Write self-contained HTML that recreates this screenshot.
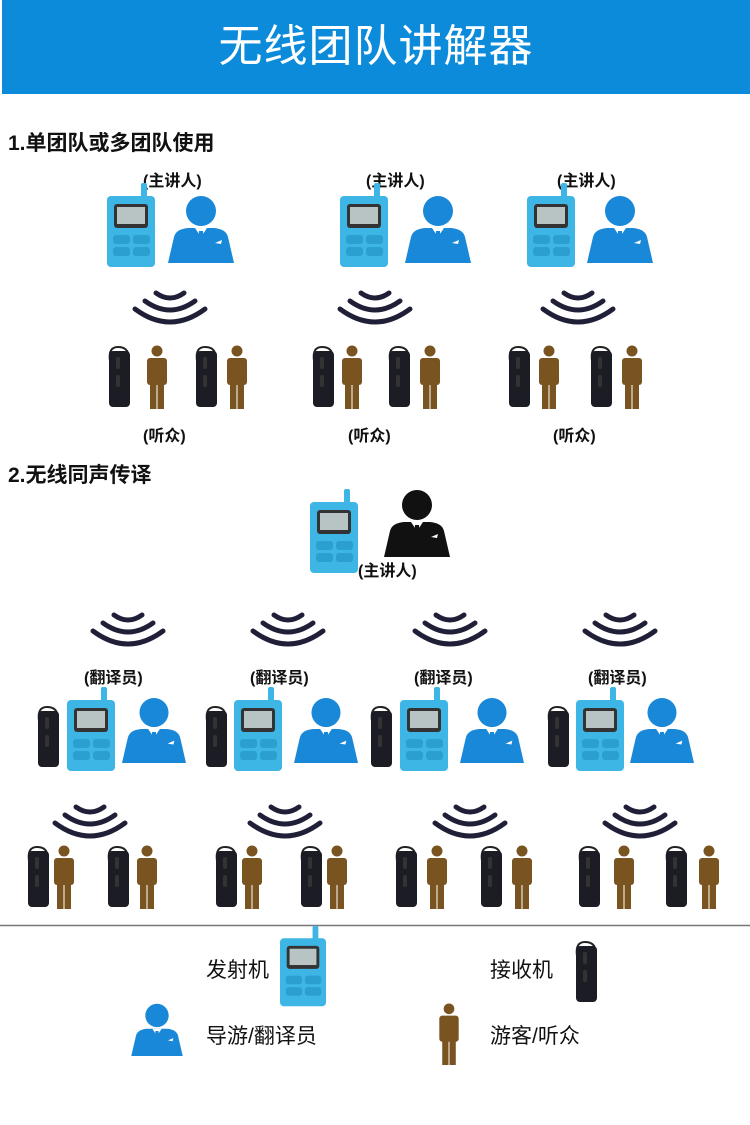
<!DOCTYPE html>
<html><head><meta charset="utf-8">
<style>
html,body{margin:0;padding:0;background:#fff;}
body{width:750px;height:1125px;position:relative;overflow:hidden;font-family:"Liberation Sans","Noto Sans CJK SC",sans-serif;}
.hdr{position:absolute;left:2px;top:0;width:748px;height:94px;background:#0b8bd9;color:#fff;font-size:44px;text-align:center;line-height:94px;letter-spacing:1px;}
.t{position:absolute;color:#111;white-space:nowrap;}
.sec{font-size:21px;font-weight:bold;}
.lb{font-size:16px;font-weight:bold;}
.lg{font-size:21px;}
svg{position:absolute;left:0;top:0;}
</style></head><body>
<div class="hdr">无线团队讲解器</div>
<div class="t sec" style="left:8px;top:127px">1.单团队或多团队使用</div>
<div class="t sec" style="left:8px;top:459px">2.无线同声传译</div>

<div class="t lb" style="left:143px;top:167px">(主讲人)</div>
<div class="t lb" style="left:366px;top:167px">(主讲人)</div>
<div class="t lb" style="left:557px;top:167px">(主讲人)</div>
<div class="t lb" style="left:143px;top:422px">(听众)</div>
<div class="t lb" style="left:348px;top:422px">(听众)</div>
<div class="t lb" style="left:553px;top:422px">(听众)</div>
<div class="t lb" style="left:358px;top:557px">(主讲人)</div>
<div class="t lb" style="left:84px;top:664px">(翻译员)</div>
<div class="t lb" style="left:250px;top:664px">(翻译员)</div>
<div class="t lb" style="left:414px;top:664px">(翻译员)</div>
<div class="t lb" style="left:588px;top:664px">(翻译员)</div>

<div class="t lg" style="left:206px;top:954px">发射机</div>
<div class="t lg" style="left:490px;top:954px">接收机</div>
<div class="t lg" style="left:206px;top:1020px">导游/翻译员</div>
<div class="t lg" style="left:490px;top:1020px">游客/听众</div>

<svg width="750" height="1125" viewBox="0 0 750 1125">
<defs>
<symbol id="tx" viewBox="0 0 48 84">
<rect x="34" y="0" width="6" height="18" rx="2" fill="#3db6e6"/>
<rect x="0" y="13" width="48" height="71" rx="4" fill="#3db6e6"/>
<rect x="7" y="21" width="34" height="24" rx="3" fill="#333"/>
<rect x="10" y="24" width="28" height="17" fill="#b8c4c4"/>
<rect x="6" y="52" width="17" height="9" rx="3" fill="#2a9fd0"/>
<rect x="26" y="52" width="17" height="9" rx="3" fill="#2a9fd0"/>
<rect x="6" y="64" width="17" height="9" rx="3" fill="#2a9fd0"/>
<rect x="26" y="64" width="17" height="9" rx="3" fill="#2a9fd0"/>
</symbol>
<symbol id="bp" viewBox="0 0 66 68">
<circle cx="33" cy="16" r="15"/>
<path d="M0 68 L6 42 Q8 34 20 33 L46 33 Q58 34 60 42 L66 68 Z"/>
<path d="M27 33 L33 42 L39 33 Z" fill="#fff"/>
<path d="M31 36 L35 36 L36 50 L33 53 L30 50 Z"/>
<path d="M47 48 L54 45 L53 49 Z" fill="#fff"/>
</symbol>
<symbol id="bm" viewBox="0 0 24 64">
<circle cx="12" cy="6" r="5.5"/>
<rect x="2" y="13" width="20" height="27" rx="3"/>
<rect x="5" y="36" width="6.5" height="28"/>
<rect x="12.5" y="36" width="6.5" height="28"/>
</symbol>
<symbol id="rx" viewBox="0 0 26 64">
<path d="M4 18 Q2 4 12 4 Q20 4 22 10" fill="none" stroke="#222" stroke-width="2"/>
<rect x="3" y="8" width="21" height="56" rx="4" fill="#1c1d24"/>
<rect x="10" y="14" width="4" height="12" rx="2" fill="#333"/>
<rect x="10" y="32" width="4" height="12" rx="2" fill="#333"/>
</symbol>
<symbol id="wv" viewBox="0 0 80 40">
<g fill="none" stroke="#1f2038" stroke-width="5" stroke-linecap="round">
<path d="M26 5 Q40 15 54 5"/>
<path d="M15 13 Q40 31 65 13"/>
<path d="M5 21 Q40 47 75 21"/>
</g>
</symbol>
</defs>

<!-- section 1 -->
<g>
<use href="#tx" x="107" y="183" width="48" height="84"/>
<use href="#bp" x="168" y="195" width="66" height="68" fill="#1a88d8"/>
<use href="#tx" x="340" y="183" width="48" height="84"/>
<use href="#bp" x="405" y="195" width="66" height="68" fill="#1a88d8"/>
<use href="#tx" x="527" y="183" width="48" height="84"/>
<use href="#bp" x="587" y="195" width="66" height="68" fill="#1a88d8"/>

<use href="#wv" x="130" y="288" width="80" height="40"/>
<use href="#wv" x="335" y="288" width="80" height="40"/>
<use href="#wv" x="538" y="288" width="80" height="40"/>

<use href="#rx" x="106" y="343" width="26" height="64"/>
<use href="#bm" x="145" y="345" width="24" height="64" fill="#7a5420"/>
<use href="#rx" x="193" y="343" width="26" height="64"/>
<use href="#bm" x="225" y="345" width="24" height="64" fill="#7a5420"/>
<use href="#rx" x="310" y="343" width="26" height="64"/>
<use href="#bm" x="340" y="345" width="24" height="64" fill="#7a5420"/>
<use href="#rx" x="386" y="343" width="26" height="64"/>
<use href="#bm" x="418" y="345" width="24" height="64" fill="#7a5420"/>
<use href="#rx" x="506" y="343" width="26" height="64"/>
<use href="#bm" x="537" y="345" width="24" height="64" fill="#7a5420"/>
<use href="#rx" x="588" y="343" width="26" height="64"/>
<use href="#bm" x="620" y="345" width="24" height="64" fill="#7a5420"/>
</g>

<!-- section 2 -->
<use href="#tx" x="310" y="489" width="48" height="84"/>
<use href="#bp" x="384" y="489" width="66" height="68" fill="#111"/>

<use href="#wv" x="88" y="610" width="80" height="40"/>
<use href="#wv" x="248" y="610" width="80" height="40"/>
<use href="#wv" x="410" y="610" width="80" height="40"/>
<use href="#wv" x="580" y="610" width="80" height="40"/>

<use href="#rx" x="35" y="703" width="26" height="64"/>
<use href="#tx" x="67" y="687" width="48" height="84"/>
<use href="#bp" x="122" y="697" width="64" height="66" fill="#1a88d8"/>
<use href="#rx" x="203" y="703" width="26" height="64"/>
<use href="#tx" x="234" y="687" width="48" height="84"/>
<use href="#bp" x="294" y="697" width="64" height="66" fill="#1a88d8"/>
<use href="#rx" x="368" y="703" width="26" height="64"/>
<use href="#tx" x="400" y="687" width="48" height="84"/>
<use href="#bp" x="460" y="697" width="64" height="66" fill="#1a88d8"/>
<use href="#rx" x="545" y="703" width="26" height="64"/>
<use href="#tx" x="576" y="687" width="48" height="84"/>
<use href="#bp" x="630" y="697" width="64" height="66" fill="#1a88d8"/>

<use href="#wv" x="50" y="802" width="80" height="40"/>
<use href="#wv" x="245" y="802" width="80" height="40"/>
<use href="#wv" x="430" y="802" width="80" height="40"/>
<use href="#wv" x="600" y="802" width="80" height="40"/>

<use href="#rx" x="25" y="843" width="26" height="64"/>
<use href="#bm" x="52" y="845" width="24" height="64" fill="#7a5420"/>
<use href="#rx" x="105" y="843" width="26" height="64"/>
<use href="#bm" x="135" y="845" width="24" height="64" fill="#7a5420"/>
<use href="#rx" x="213" y="843" width="26" height="64"/>
<use href="#bm" x="240" y="845" width="24" height="64" fill="#7a5420"/>
<use href="#rx" x="298" y="843" width="26" height="64"/>
<use href="#bm" x="325" y="845" width="24" height="64" fill="#7a5420"/>
<use href="#rx" x="393" y="843" width="26" height="64"/>
<use href="#bm" x="425" y="845" width="24" height="64" fill="#7a5420"/>
<use href="#rx" x="478" y="843" width="26" height="64"/>
<use href="#bm" x="510" y="845" width="24" height="64" fill="#7a5420"/>
<use href="#rx" x="576" y="843" width="26" height="64"/>
<use href="#bm" x="612" y="845" width="24" height="64" fill="#7a5420"/>
<use href="#rx" x="663" y="843" width="26" height="64"/>
<use href="#bm" x="697" y="845" width="24" height="64" fill="#7a5420"/>

<line x1="0" y1="925.5" x2="750" y2="925.5" stroke="#777" stroke-width="1.5"/>

<!-- legend -->
<use href="#tx" x="280" y="925" width="46" height="82"/>
<use href="#rx" x="572" y="938" width="28" height="64"/>
<use href="#bp" x="130" y="1003" width="54" height="53" fill="#1a88d8"/>
<use href="#bm" x="436" y="1003" width="26" height="62" fill="#7a5420"/>
</svg>
</body></html>
